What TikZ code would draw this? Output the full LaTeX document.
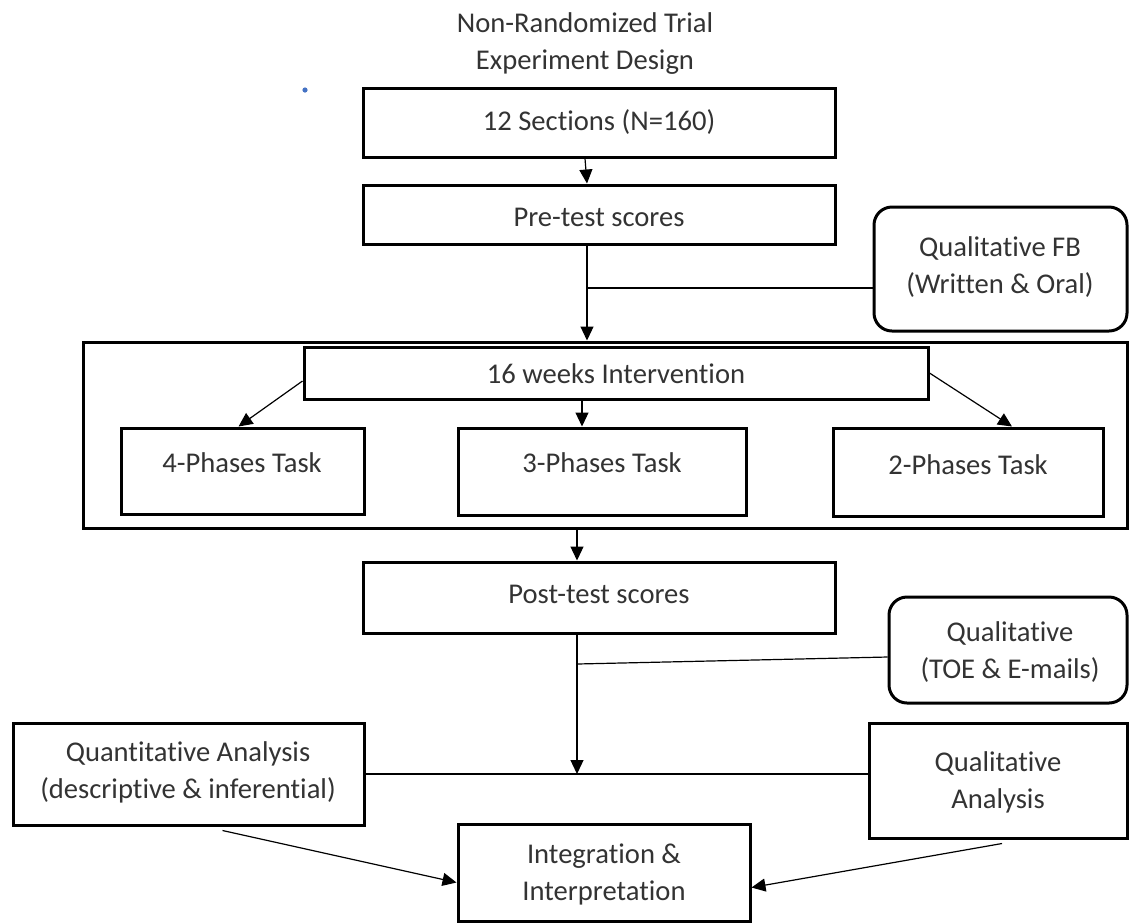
\documentclass[tikz,border=0pt]{standalone}
\usepackage{fontspec}
\setmainfont{Carlito}[Ligatures={NoCommon}]
\usetikzlibrary{arrows.meta,fit,calc}
\definecolor{textgray}{HTML}{333333}
\definecolor{dotblue}{HTML}{4472C4}
\begin{document}
\begin{tikzpicture}[x=0.5pt,y=-0.5pt,
  box/.style={draw=black, line width=1.5pt, inner sep=0pt},
  rbox/.style={box, rounded corners=9pt},
  txt/.style={text=textgray, font=\fontsize{14.3}{18.5}\selectfont, align=center, inner sep=0pt},
  conn/.style={line width=0.6pt, draw=black},
  arr/.style={conn, -{Triangle[length=7pt,width=6.5pt]}}]
\useasboundingbox (0,0) rectangle (1129,923);

% title
\node[txt] (title) at (585,44) {Non-Randomized Trial\\Experiment Design};
\fill[dotblue] (305,90) circle (1.3pt);

% boxes
\node[box, fit={(363,88)(835,157)}] (b1) {};
\node[txt] (b1t) at (599,122) {12 Sections (N=160)};
\node[box, fit={(363,185)(835,244)}] (pre) {};
\node[txt] (pret) at (599,217) {Pre-test scores};
\node[rbox, fit={(874,207)(1127,331)}] (fb) {};
\node[txt] (fbt) at (1000,267) {Qualitative FB\\(Written \& Oral)};

\node[box, fit={(83,342)(1127,528)}] (cont) {};
\node[box, fit={(304,347)(928,399)}] (wk) {};
\node[txt] (wkt) at (616,374) {16 weeks Intervention};
\node[box, fit={(121,428)(364,514)}] (p4) {};
\node[txt] (p4t) at (242,463) {4-Phases Task};
\node[box, fit={(458,428)(746,515)}] (p3) {};
\node[txt] (p3t) at (602,463) {3-Phases Task};
\node[box, fit={(833,428)(1103,516)}] (p2) {};
\node[txt] (p2t) at (968,465) {2-Phases Task};

\node[box, fit={(363,562)(835,633)}] (post) {};
\node[txt] (postt) at (599,594) {Post-test scores};
\node[rbox, fit={(889,597)(1127,703)}] (toe) {};
\node[txt] (toet) at (1010,652) {Qualitative\\(TOE \& E-mails)};

\node[box, fit={(13,723)(364,825)}] (quant) {};
\node[txt] (quantt) at (188,772) {Quantitative Analysis\\(descriptive \& inferential)};
\node[box, fit={(869,723)(1127,838)}] (qa) {};
\node[txt] (qat) at (998,782) {Qualitative\\Analysis};
\node[box, fit={(458,824)(750,921)}] (integ) {};
\node[txt] (integt) at (604,874) {Integration \&\\Interpretation};

% helper coordinates
\coordinate (s1) at (587,0);
\coordinate (s0) at (585,0);
\coordinate (s3) at (582,0);
\coordinate (s4) at (577,0);
\coordinate (j1) at (587,288);
\coordinate (j2) at (577,664);
\coordinate (j3) at (577,774);

% connectors
\draw[arr] (b1.south -| s0) -- (pre.north -| s1);
\draw[arr] (pre.south -| s1) -- (cont.north -| s1);
\draw[conn] (j1) -- (j1 -| fb.west);
\draw[arr] ([yshift=-4pt]wk.west) -- ([xshift=-2pt]p4.north);
\draw[arr] (wk.south -| s3) -- (p3.north -| s3);
\draw[arr] (wk.east) -- ([xshift=22pt]p2.north);
\draw[arr] (cont.south -| s4) -- (post.north -| s4);
\draw[arr] (post.south -| s4) -- (j3);
\draw[conn] (j2) -- ([yshift=-3.5pt]toe.west);
\draw[conn] (quant.east) -- (quant.east -| qa.west);
\draw[arr] ([xshift=17pt,yshift=-2pt]quant.south) -- ([yshift=-5pt]integ.west);
\draw[arr] ([xshift=2pt,yshift=-2pt]qa.south) -- ([yshift=-7.5pt]integ.east);
\end{tikzpicture}
\end{document}
